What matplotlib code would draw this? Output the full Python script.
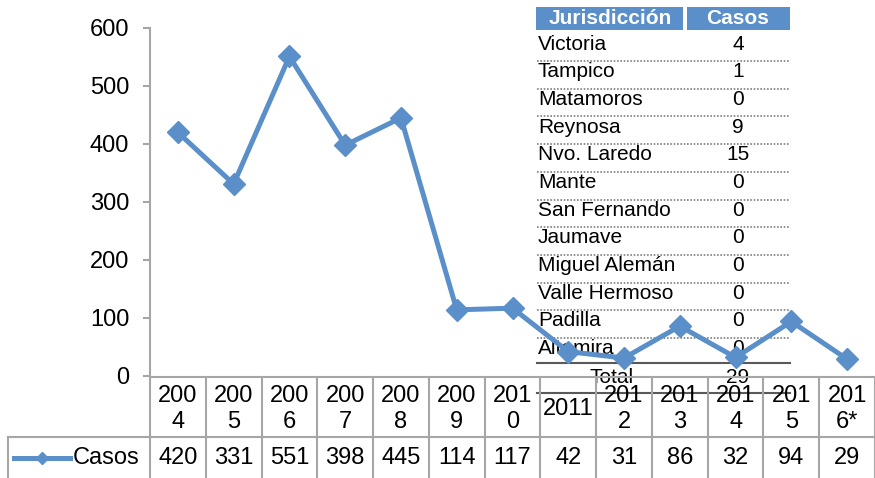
import matplotlib
matplotlib.use('Agg')
import matplotlib.pyplot as plt
import matplotlib.transforms as mtransforms
from matplotlib.patches import Rectangle

plt.rcParams['font.family'] = ['Liberation Sans', 'DejaVu Sans']

# data
year_labels = ['200\n4', '200\n5', '200\n6', '200\n7', '200\n8', '200\n9', '201\n0',
               '2011', '201\n2', '201\n3', '201\n4', '201\n5', '201\n6*']
casos = [420, 331, 551, 398, 445, 114, 117, 42, 31, 86, 32, 94, 29]
series_name = 'Casos'

jurisdicciones = ['Victoria', 'Tampico', 'Matamoros', 'Reynosa', 'Nvo. Laredo', 'Mante',
                  'San Fernando', 'Jaumave', 'Miguel Alemán', 'Valle Hermoso', 'Padilla',
                  'Altamira']
casos_jur = [4, 1, 0, 9, 15, 0, 0, 0, 0, 0, 0, 0]
total_label = 'Total'

line_color = '#5b8fc9'
grid_gray = '#a6a6a6'
W, H = 875, 478

fig = plt.figure(figsize=(W / 100, H / 100), dpi=100)

# background axes in pixel coordinates (for the overlay table)
bg = fig.add_axes([0, 0, 1, 1], zorder=0)
bg.set_xlim(0, W)
bg.set_ylim(H, 0)
bg.axis('off')

# main chart axes
x0, x1, ytop, y0 = 150, 875, 28, 376
ax = fig.add_axes([x0 / W, (H - y0) / H, (x1 - x0) / W, (y0 - ytop) / H], zorder=1)
ax.patch.set_alpha(0)
ax.set_xlim(-0.5, len(casos) - 0.5)
ax.set_ylim(0, 600)
ax.set_yticks(range(0, 601, 100))
ax.set_xticks([])
for s in ['top', 'right', 'bottom']:
    ax.spines[s].set_visible(False)
ax.spines['left'].set_color(grid_gray)
ax.spines['left'].set_linewidth(1.5)
ax.tick_params(axis='y', length=5, width=1.5, color=grid_gray, labelsize=17, pad=10)

# overlay table "Jurisdicción / Casos"
tx0, tx1, tcol = 537, 790, 738
bg.add_patch(Rectangle((536, 7), 147, 23, color=line_color, lw=0))
bg.add_patch(Rectangle((687, 7), 103, 23, color=line_color, lw=0))
bg.text(610, 18.5, 'Jurisdicción', color='white', fontsize=15, fontweight='bold',
        ha='center', va='center')
bg.text(738, 18.5, 'Casos', color='white', fontsize=15, fontweight='bold',
        ha='center', va='center')
row_h = 27.7
for i, (name, val) in enumerate(zip(jurisdicciones, casos_jur)):
    yc = 44 + row_h * i
    bg.text(tx0 + 1, yc, name, fontsize=15, ha='left', va='center')
    bg.text(tcol, yc, str(val), fontsize=15, ha='center', va='center')
    if i < len(jurisdicciones) - 1:
        bg.plot([tx0, tx1], [yc + 17, yc + 17], color='#7f7f7f', lw=1.2, ls=(0, (1, 1)))
yt = 44 + row_h * len(jurisdicciones)
bg.plot([tx0, tx1], [363, 363], color='#595959', lw=1.5)
bg.plot([tx0, tx1], [393, 393], color='#595959', lw=1.5)
bg.text(612, yt + 1, total_label, fontsize=15, ha='center', va='center')
bg.text(tcol, yt + 1, str(sum(casos_jur)), fontsize=15, ha='center', va='center')

# series line
xs = list(range(len(casos)))
ax.plot(xs, casos, color=line_color, lw=3.6, marker='D', markersize=11, zorder=5,
        clip_on=False)

# data table below the axis (x in data units, y in pixels)
tr = mtransforms.blended_transform_factory(ax.transData, bg.transData)
r1_top, r1_bot, r2_bot = 377, 437, 478
for i in range(len(casos) + 1):
    ax.plot([i - 0.5, i - 0.5], [r1_top, r2_bot], color=grid_gray, lw=1.5,
            transform=tr, clip_on=False, zorder=3)
ax.plot([-0.5, len(casos) - 0.5], [r1_top, r1_top], color=grid_gray, lw=1.5,
        transform=tr, clip_on=False, zorder=3)
bg.plot([8, W], [r1_bot, r1_bot], color=grid_gray, lw=1.5)
bg.plot([8, 8], [r1_bot, r2_bot], color=grid_gray, lw=1.5)
for i, (lab, val) in enumerate(zip(year_labels, casos)):
    ax.text(i, (r1_top + r1_bot) / 2 + 2, lab, transform=tr, fontsize=17,
            ha='center', va='center', linespacing=1.2)
    ax.text(i, (r1_bot + r2_bot) / 2 + 1, str(val), transform=tr, fontsize=17,
            ha='center', va='center')

# legend key in the table
ly = (r1_bot + r2_bot) / 2
bg.plot([14, 70], [ly, ly], color=line_color, lw=3.6)
bg.plot([42], [ly], color=line_color, marker='D', markersize=6)
bg.text(73, ly + 1, series_name, fontsize=17, ha='left', va='center')

plt.savefig('out.png', dpi=100)
